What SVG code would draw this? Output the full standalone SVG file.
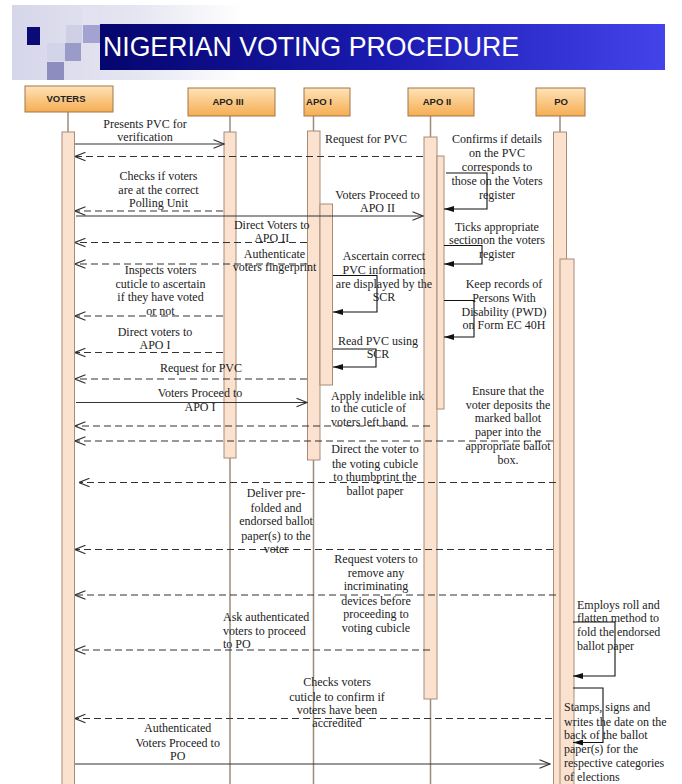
<svg xmlns="http://www.w3.org/2000/svg" width="682" height="784" viewBox="0 0 682 784">
<defs>
  <linearGradient id="bgGrad" x1="0" y1="0" x2="1" y2="0">
    <stop offset="0" stop-color="#d6d6ea"/>
    <stop offset="0.55" stop-color="#e6e6f2"/>
    <stop offset="1" stop-color="#ffffff"/>
  </linearGradient>
  <linearGradient id="banner" x1="0" y1="0" x2="1" y2="0">
    <stop offset="0" stop-color="#05056e"/>
    <stop offset="0.5" stop-color="#1a1ab0"/>
    <stop offset="1" stop-color="#4343ea"/>
  </linearGradient>
  <linearGradient id="boxGrad" x1="0" y1="0" x2="0" y2="1">
    <stop offset="0" stop-color="#fde3b8"/>
    <stop offset="1" stop-color="#f6ad52"/>
  </linearGradient>
  <marker id="open" viewBox="0 0 12 10" refX="11.5" refY="5" markerWidth="12" markerHeight="10" markerUnits="userSpaceOnUse" orient="auto">
    <path d="M1,0.8 L11.5,5 L1,9.2" fill="none" stroke="#333" stroke-width="1.2"/>
  </marker>
  <marker id="filled" viewBox="0 0 10 6" refX="10" refY="3" markerWidth="10" markerHeight="6" markerUnits="userSpaceOnUse" orient="auto">
    <path d="M0,0 L10,3 L0,6 z" fill="#111"/>
  </marker>
</defs>
<style>
  .hdr { fill: url(#boxGrad); stroke: #a0774a; stroke-width: 1; }
  .hdrt { font-family: "Liberation Sans", Arial, sans-serif; font-size: 9.5px; font-weight: bold; fill: #222; text-anchor: middle; }
  .life { stroke: #9d8c7c; stroke-width: 1.5; fill: none; }
  .bar { fill: #fbe2cf; stroke: #a88c78; stroke-width: 1; }
  .msg { stroke: #333; stroke-width: 1.1; fill: none; marker-end: url(#open); }
  .dash { stroke: #333; stroke-width: 1.1; fill: none; stroke-dasharray: 7 4; marker-end: url(#open); }
  .self { stroke: #111; stroke-width: 1.1; fill: none; marker-end: url(#filled); }
  .t { font-family: "Liberation Serif", "Times New Roman", serif; font-size: 12px; fill: #222; text-anchor: middle; }
  .tl { font-family: "Liberation Serif", "Times New Roman", serif; font-size: 12px; fill: #222; text-anchor: start; }
</style>
<rect width="682" height="784" fill="#ffffff"/>

<g id="header">
  <rect x="12" y="5" width="230" height="75" fill="url(#bgGrad)"/>
  <rect x="82" y="7" width="17" height="18" fill="#e2e2f1"/>
  <rect x="66" y="25" width="16" height="18" fill="#cfcfe6"/>
  <rect x="83" y="25" width="17" height="18" fill="#a3a3d2"/>
  <rect x="47" y="43" width="18" height="18" fill="#d3d3e9"/>
  <rect x="65" y="43" width="16" height="18" fill="#9b9bc9"/>
  <rect x="47" y="62" width="17" height="18" fill="#8d8dc0"/>
  <rect x="27" y="27" width="13" height="18" fill="#0b0b78"/>
  <rect x="100" y="24" width="565" height="46" fill="url(#banner)"/>
  <text x="103" y="56" font-family="Liberation Sans, Arial, sans-serif" font-size="28" fill="#ffffff" textLength="416" lengthAdjust="spacingAndGlyphs">NIGERIAN VOTING PROCEDURE</text>
</g>

<g id="voters">
  <line class="life" x1="68" y1="112" x2="68" y2="784"/>
  <rect class="hdr" x="25" y="86" width="88" height="26"/>
  <text class="hdrt" x="66" y="102">VOTERS</text>
  <rect class="bar" x="62" y="132" width="12.5" height="660"/>
</g>
<g id="apo3">
  <line class="life" x1="230" y1="116" x2="230" y2="784"/>
  <rect class="hdr" x="188" y="88" width="87" height="28"/>
  <text class="hdrt" x="228" y="105">APO III</text>
  <rect class="bar" x="224" y="132" width="12" height="326"/>
</g>
<g id="apo1">
  <line class="life" x1="313.5" y1="116" x2="313.5" y2="784"/>
  <rect class="hdr" x="304" y="88" width="46" height="28"/>
  <text class="hdrt" x="319" y="105">APO I</text>
  <rect class="bar" x="307.5" y="131" width="12.5" height="329"/>
  <rect class="bar" x="320" y="204" width="12.5" height="181"/>
</g>
<g id="apo2">
  <line class="life" x1="430.5" y1="116" x2="430.5" y2="784"/>
  <rect class="hdr" x="408" y="88" width="66" height="28"/>
  <text class="hdrt" x="437" y="105">APO II</text>
  <rect class="bar" x="424" y="137" width="13" height="562"/>
  <rect class="bar" x="437" y="156" width="7" height="253"/>
</g>
<g id="po">
  <line class="life" x1="560" y1="116" x2="560" y2="784"/>
  <rect class="hdr" x="536" y="88" width="49" height="28"/>
  <text class="hdrt" x="561" y="105">PO</text>
  <rect class="bar" x="553.5" y="132" width="13" height="660"/>
  <rect class="bar" x="560" y="259" width="14" height="533"/>
</g>

<g id="connectors">
  <line class="msg" x1="75" y1="144" x2="224" y2="144"/>
  <line class="dash" x1="423" y1="156.5" x2="75" y2="156.5"/>
  <path class="self" d="M446,173 H487 V209 H444"/>
  <line class="dash" x1="223" y1="211" x2="75" y2="211"/>
  <line class="msg" x1="76" y1="216" x2="423" y2="216"/>
  <line class="dash" x1="307" y1="242.5" x2="75" y2="242.5"/>
  <path class="self" d="M444,245.5 H482 V264 H444"/>
  <line class="dash" x1="307" y1="264" x2="75" y2="264"/>
  <path class="self" d="M333,275.5 H377 V312 H333"/>
  <path class="self" d="M444,300.5 H474 V337 H444"/>
  <line class="dash" x1="223" y1="316" x2="75" y2="316"/>
  <path class="self" d="M333,349 H376 V367 H333"/>
  <line class="dash" x1="223" y1="352.5" x2="75" y2="352.5"/>
  <line class="dash" x1="307" y1="379" x2="75" y2="379"/>
  <line class="msg" x1="76" y1="402.5" x2="307" y2="402.5"/>
  <line class="dash" x1="430" y1="426" x2="75" y2="426"/>
  <line class="dash" x1="553" y1="441" x2="75" y2="441"/>
  <line class="dash" x1="556" y1="482.5" x2="79" y2="482.5"/>
  <line class="dash" x1="553" y1="549.5" x2="75" y2="549.5"/>
  <line class="dash" x1="556" y1="595" x2="75" y2="595"/>
  <path class="self" d="M573,622 H615 V676 H573"/>
  <line class="dash" x1="430" y1="650" x2="75" y2="650"/>
  <path class="self" d="M573,688 H603 V742.5 H573"/>
  <line class="dash" x1="552" y1="718.5" x2="75" y2="718.5"/>
  <line class="msg" x1="75" y1="764" x2="550" y2="764"/>
</g>

<g id="labels">
  <text class="t" x="145" y="127.5">Presents PVC for</text>
  <text class="t" x="145" y="141">verification</text>
  <text class="t" x="366" y="143.3">Request for PVC</text>
  <text class="t" x="497" y="143.3">Confirms if details</text>
  <text class="t" x="497" y="157.3">on the PVC</text>
  <text class="t" x="497" y="171.3">corresponds to</text>
  <text class="t" x="497" y="185">those on the Voters</text>
  <text class="t" x="497" y="199">register</text>
  <text class="t" x="158.5" y="180">Checks if voters</text>
  <text class="t" x="158.5" y="194">are at the correct</text>
  <text class="t" x="158.5" y="207">Polling Unit</text>
  <text class="t" x="377.5" y="199">Voters Proceed to</text>
  <text class="t" x="377.5" y="212.3">APO II</text>
  <text class="t" x="271.7" y="228.5">Direct Voters to</text>
  <text class="t" x="271.7" y="242">APO II</text>
  <text class="t" x="497" y="230.7">Ticks appropriate</text>
  <text class="t" x="497" y="244">sectionon the voters</text>
  <text class="t" x="497" y="258">register</text>
  <text class="t" x="274.5" y="258">Authenticate</text>
  <text class="t" x="274.5" y="270.7">voters fingerprint</text>
  <text class="t" x="384" y="260">Ascertain correct</text>
  <text class="t" x="384" y="274">PVC information</text>
  <text class="t" x="384" y="288">are displayed by the</text>
  <text class="t" x="384" y="300.7">SCR</text>
  <text class="t" x="160.5" y="274">Inspects voters</text>
  <text class="t" x="160.5" y="288">cuticle to ascertain</text>
  <text class="t" x="160.5" y="301">if they have voted</text>
  <text class="t" x="160.5" y="315">or not</text>
  <text class="t" x="504" y="288">Keep records of</text>
  <text class="t" x="504" y="302.3">Persons With</text>
  <text class="t" x="504" y="315.7">Disability (PWD)</text>
  <text class="t" x="504" y="329">on Form EC 40H</text>
  <text class="t" x="155" y="335.7">Direct voters to</text>
  <text class="t" x="155" y="349">APO I</text>
  <text class="t" x="378" y="345">Read PVC using</text>
  <text class="t" x="378" y="358.3">SCR</text>
  <text class="t" x="201" y="372.3">Request for PVC</text>
  <text class="t" x="200" y="397.3">Voters Proceed to</text>
  <text class="t" x="200" y="410.7">APO I</text>
  <text class="tl" x="331" y="399.7">Apply indelible ink</text>
  <text class="tl" x="331" y="412.3">to the cuticle of</text>
  <text class="tl" x="331" y="426.3">voters left hand</text>
  <text class="t" x="508" y="394.7">Ensure that the</text>
  <text class="t" x="508" y="409">voter deposits the</text>
  <text class="t" x="508" y="422.3">marked ballot</text>
  <text class="t" x="508" y="436.3">paper into the</text>
  <text class="t" x="508" y="449.7">appropriate ballot</text>
  <text class="t" x="508" y="464">box.</text>
  <text class="t" x="375" y="453.3">Direct the voter to</text>
  <text class="t" x="375" y="468">the voting cubicle</text>
  <text class="t" x="375" y="481.3">to thumbprint the</text>
  <text class="t" x="375" y="494.7">ballot paper</text>
  <text class="t" x="276" y="497.3">Deliver pre-</text>
  <text class="t" x="276" y="511.7">folded and</text>
  <text class="t" x="276" y="525">endorsed ballot</text>
  <text class="t" x="276" y="539.7">paper(s) to the</text>
  <text class="t" x="276" y="553">voter</text>
  <text class="t" x="376" y="563.3">Request voters to</text>
  <text class="t" x="376" y="576.7">remove any</text>
  <text class="t" x="376" y="590">incriminating</text>
  <text class="t" x="376" y="604.7">devices before</text>
  <text class="t" x="376" y="618">proceeding to</text>
  <text class="t" x="376" y="632.3">voting cubicle</text>
  <text class="tl" x="577" y="609">Employs roll and</text>
  <text class="tl" x="577" y="622.3">flatten method to</text>
  <text class="tl" x="577" y="636.3">fold the endorsed</text>
  <text class="tl" x="577" y="650">ballot paper</text>
  <text class="tl" x="223" y="620.7">Ask authenticated</text>
  <text class="tl" x="223" y="635">voters to proceed</text>
  <text class="tl" x="223" y="648">to PO</text>
  <text class="t" x="337" y="685.7">Checks voters</text>
  <text class="t" x="337" y="700.7">cuticle to confirm if</text>
  <text class="t" x="337" y="714">voters have been</text>
  <text class="t" x="337" y="727.3">accredited</text>
  <text class="tl" x="564" y="711.3">Stamps, signs and</text>
  <text class="tl" x="564" y="725.7">writes the date on the</text>
  <text class="tl" x="564" y="739">back of the  ballot</text>
  <text class="tl" x="564" y="753">paper(s) for the</text>
  <text class="tl" x="564" y="767.3">respective categories</text>
  <text class="tl" x="564" y="780.7">of elections</text>
  <text class="t" x="177.7" y="732.3">Authenticated</text>
  <text class="t" x="177.7" y="746.7">Voters Proceed to</text>
  <text class="t" x="177.7" y="760">PO</text>
</g>
</svg>
